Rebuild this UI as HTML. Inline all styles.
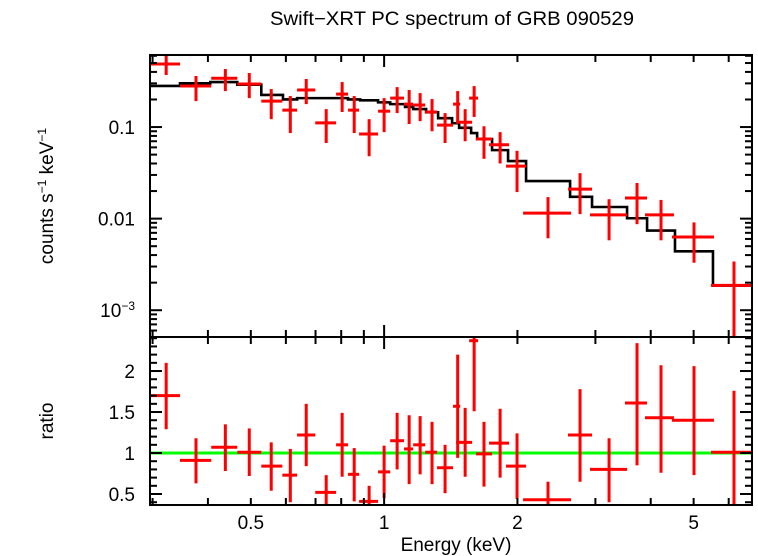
<!DOCTYPE html>
<html><head><meta charset="utf-8">
<style>
html,body{margin:0;padding:0;background:#fff;}
svg{display:block;font-family:"Liberation Sans",sans-serif;}
</style></head>
<body>
<svg id="chart" width="758" height="556" viewBox="0 0 758 556">
<text x="452" y="25" font-size="19" text-anchor="middle" textLength="364" lengthAdjust="spacingAndGlyphs">Swift−XRT PC spectrum of GRB 090529</text>
<text x="456" y="551" font-size="19" text-anchor="middle">Energy (keV)</text>
<text transform="translate(53,196) rotate(-90)" font-size="19" text-anchor="middle">counts s<tspan dy="-7" font-size="12">−1</tspan><tspan dy="7"> keV</tspan><tspan dy="-7" font-size="12">−1</tspan></text>
<text transform="translate(53,421) rotate(-90)" font-size="19" text-anchor="middle">ratio</text>
<g id="g"></g>
</svg>
<script>
// Data bins (keV)
const eLo   = [0.296,0.346,0.407,0.466,0.528,0.589,0.636,0.699,0.779,0.829,0.878,0.969,1.032,1.109,1.163,1.238,1.317,1.431,1.454,1.556,1.613,1.726,1.885,2.060,2.602,2.917,3.499,3.883,4.467,5.472];
const eHi   = [0.346,0.407,0.466,0.528,0.589,0.636,0.699,0.779,0.829,0.878,0.969,1.032,1.109,1.163,1.238,1.317,1.431,1.485,1.580,1.630,1.753,1.915,2.092,2.643,2.948,3.537,3.924,4.514,5.558,6.773];
const eMid  = [0.322,0.376,0.438,0.496,0.556,0.614,0.667,0.740,0.804,0.856,0.925,1.000,1.070,1.139,1.206,1.283,1.373,1.466,1.524,1.597,1.681,1.828,1.996,2.345,2.770,3.221,3.725,4.220,5.010,6.168];
const flux  = [0.488,0.281,0.341,0.295,0.192,0.153,0.254,0.111,0.229,0.153,0.084,0.149,0.207,0.178,0.174,0.146,0.105,0.178,0.113,0.207,0.074,0.064,0.0375,0.0115,0.0210,0.0110,0.0168,0.0110,0.0063,0.00187];
const fluxUp= [0.62,0.361,0.43,0.389,0.26,0.218,0.335,0.157,0.31,0.218,0.122,0.207,0.273,0.254,0.235,0.202,0.142,0.247,0.157,0.28,0.102,0.088,0.055,0.0172,0.0314,0.0163,0.0245,0.016,0.0091,0.0034];
const fluxLo= [0.37,0.192,0.247,0.207,0.122,0.086,0.178,0.067,0.146,0.086,0.048,0.088,0.142,0.108,0.116,0.090,0.067,0.113,0.070,0.129,0.045,0.040,0.0195,0.0061,0.0112,0.0058,0.0087,0.0058,0.0033,0.0004];
const ratio = [1.70,0.91,1.07,1.01,0.84,0.73,1.22,0.52,1.10,0.74,0.41,0.77,1.15,1.05,1.10,1.01,0.82,1.57,1.13,2.37,0.99,1.12,0.84,0.43,1.22,0.80,1.61,1.43,1.40,1.01];
const ratioUp=[2.10,1.18,1.35,1.30,1.13,1.05,1.60,0.73,1.49,1.06,0.60,1.09,1.49,1.46,1.45,1.38,1.10,2.20,1.55,2.6,1.38,1.54,1.24,0.65,1.78,1.18,2.34,2.07,2.06,1.76];
const ratioLo=[1.29,0.63,0.78,0.72,0.54,0.40,0.84,0.3,0.71,0.41,0.3,0.45,0.80,0.62,0.74,0.62,0.51,0.94,0.71,1.51,0.59,0.70,0.44,0.3,0.65,0.40,0.85,0.76,0.73,0.3];
// Model step function
const modelEdges = [0.296,0.346,0.405,0.466,0.528,0.591,0.636,0.829,0.883,0.969,1.032,1.115,1.163,1.244,1.324,1.424,1.477,1.572,1.622,1.753,1.905,2.092,2.630,2.948,3.537,3.925,4.538,5.529,6.773];
const modelVals  = [0.281,0.30,0.31,0.29,0.224,0.20,0.207,0.20,0.196,0.186,0.178,0.166,0.157,0.145,0.125,0.11,0.098,0.086,0.074,0.056,0.0425,0.0257,0.0173,0.0134,0.0101,0.0074,0.0044,0.00186];
const xTicks = [0.3,0.4,0.5,0.6,0.7,0.8,0.9,1,2,3,4,5,6];
const xLabels = [0.5,1,2,5];
const ratioLabels = [0.5,1,1.5,2];

const X0=150,X1=752,TY0=55,TY1=337,BY0=337,BY1=505;
const EMIN=0.296,EMAX=6.773,FMIN=5.1e-4,FMAX=0.612,RMIN=0.366,RMAX=2.415;
const xs=e=>X0+(Math.log10(e)-Math.log10(EMIN))/(Math.log10(EMAX)-Math.log10(EMIN))*(X1-X0);
const ys=f=>TY1-(Math.log10(Math.max(f,1e-6))-Math.log10(FMIN))/(Math.log10(FMAX)-Math.log10(FMIN))*(TY1-TY0);
const yr=r=>BY1-(r-RMIN)/(RMAX-RMIN)*(BY1-BY0);
const NS="http://www.w3.org/2000/svg";
const g=document.getElementById('g');
function mk(tag,attrs,parent){const el=document.createElementNS(NS,tag);for(const k in attrs)el.setAttribute(k,attrs[k]);(parent||g).appendChild(el);return el;}
const cl=v=>Math.max(TY0,Math.min(TY1,v));
const clb=v=>Math.max(BY0,Math.min(BY1,v));

const defs=mk('defs',{});
const cp1=mk('clipPath',{id:'ct'},defs);mk('rect',{x:X0,y:TY0,width:X1-X0,height:TY1-TY0},cp1);
const cp2=mk('clipPath',{id:'cb'},defs);mk('rect',{x:X0,y:BY0,width:X1-X0,height:BY1-BY0},cp2);

let d='';
for(let i=0;i<modelVals.length;i++){const y=ys(modelVals[i]);d+=(i==0?'M':'L')+xs(modelEdges[i])+','+y+'L'+xs(modelEdges[i+1])+','+y;}
const model=mk('path',{d:d,fill:'none',stroke:'#000','stroke-width':2.6,'clip-path':'url(#ct)'});



const topG=mk('g',{stroke:'#f00','stroke-width':3,'clip-path':'url(#ct)'});


for(let i=0;i<flux.length;i++){
  const c=mk('g',{},topG);
  
  
  const y=ys(flux[i]),x=xs(eMid[i]);
  mk('line',{x1:xs(eLo[i]),x2:xs(eHi[i]),y1:y,y2:y},c);
  mk('line',{x1:x,x2:x,y1:cl(ys(fluxUp[i])),y2:cl(ys(fluxLo[i]))},c);
}
const one=mk('line',{x1:X0,x2:X1,y1:yr(1),y2:yr(1),stroke:'#0f0','stroke-width':3});


const botG=mk('g',{stroke:'#f00','stroke-width':3,'clip-path':'url(#cb)'});


for(let i=0;i<ratio.length;i++){
  const c=mk('g',{},botG);
  
  
  const y=yr(ratio[i]),x=xs(eMid[i]);
  mk('line',{x1:xs(eLo[i]),x2:xs(eHi[i]),y1:y,y2:y},c);
  mk('line',{x1:x,x2:x,y1:clb(yr(ratioUp[i])),y2:clb(yr(ratioLo[i]))},c);
}

const ax=mk('g',{stroke:'#000','stroke-width':2,fill:'none'});


mk('rect',{x:X0,y:TY0,width:X1-X0,height:BY1-TY0},ax);
mk('line',{x1:X0,x2:X1,y1:BY0,y2:BY0},ax);
xTicks.forEach(e=>{
  const x=xs(e),L=(e===1)?12:7;
  [[TY0,1],[BY0,-1],[BY0,1],[BY1,-1]].forEach(([y,s])=>mk('line',{x1:x,x2:x,y1:y,y2:y+s*L},ax));
});
for(let p=-4;p<=0;p++){for(let m=1;m<=9;m++){const f=m*Math.pow(10,p);if(f<FMIN||f>FMAX)continue;const y=ys(f),L=m===1?12:7;
  mk('line',{x1:X0,x2:X0+L,y1:y,y2:y},ax);mk('line',{x1:X1,x2:X1-L,y1:y,y2:y},ax);}}
for(let r=0.4;r<=2.4001;r+=0.1){const rr=Math.round(r*10)/10;const y=yr(rr),L=(Math.round(rr*10)%5===0)?12:7;
  mk('line',{x1:X0,x2:X0+L,y1:y,y2:y},ax);mk('line',{x1:X1,x2:X1-L,y1:y,y2:y},ax);}

xLabels.forEach(e=>{const t=mk('text',{x:xs(e),y:529,'font-size':19,'text-anchor':'middle'});t.textContent=String(e);
  
  });
[[0.1,'0.1'],[0.01,'0.01']].forEach(([f,s])=>{const t=mk('text',{x:135,y:ys(f)+7,'font-size':19,'text-anchor':'end'});t.textContent=s;
  
  });
const t3=mk('text',{x:135,y:ys(0.001)+7,'font-size':19,'text-anchor':'end'});


t3.innerHTML='10<tspan dy="-7" font-size="12">−3</tspan>';
ratioLabels.forEach(r=>{const t=mk('text',{x:135,y:yr(r)+7,'font-size':19,'text-anchor':'end'});t.textContent=String(r);
  
  });
</script>
</body></html>
